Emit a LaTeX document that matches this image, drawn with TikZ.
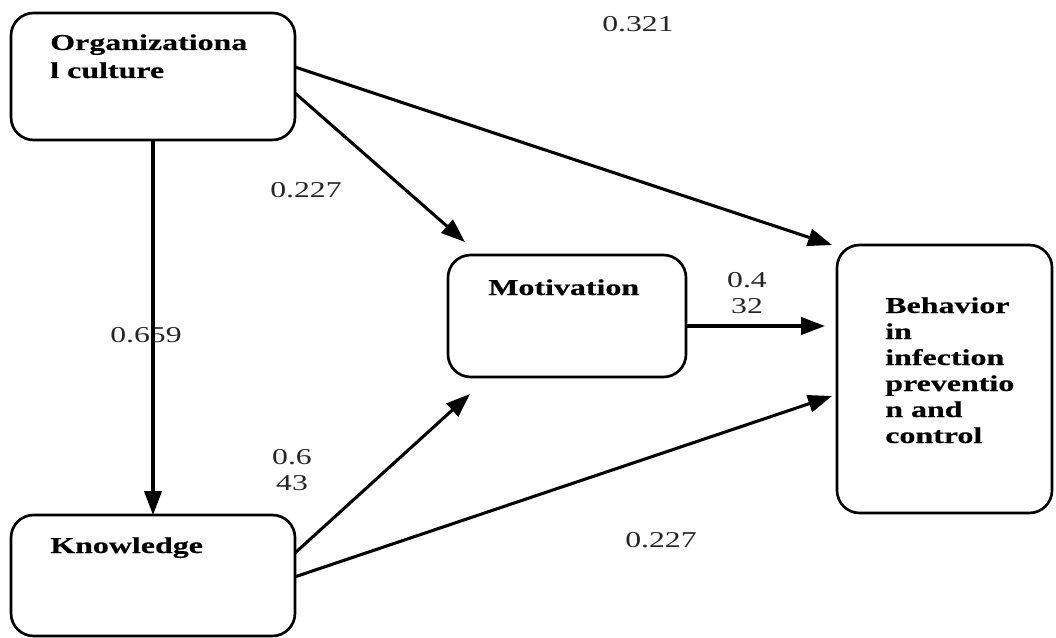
\documentclass[tikz,border=0pt]{standalone}
\usepackage{fontspec}
\setmainfont{Liberation Serif}
\newfontfamily\boxfont[FakeStretch=1.41, FakeBold=0.4]{Liberation Serif}
\newfontfamily\coeffont[FakeStretch=1.4]{Liberation Serif}
\usepackage{tikz}
\usetikzlibrary{arrows.meta,calc,positioning}
\tikzset{
	path diagram/.style={
		x=0.75pt, y=-0.75pt,
		ar/.style={-{Triangle[length=18pt,width=13pt]}, line width=2.3pt},
		coef/.style={font=\coeffont\fontsize{17}{19.5}\selectfont, text=black!85, align=center, inner sep=0pt}
		},
	box text/.style={font=\boxfont\bfseries\fontsize{17}{#1}\selectfont, align=left, inner sep=0pt},
	box text/.default=20pt,
	pb/.code 2 args={
		\pgfkeysalso{draw, line width=2pt, rounded corners=17pt,
			minimum width=#1, minimum height=#2, inner sep=0pt, outer sep=0pt,
			prefix after command={\pgfextra{\let\fixname\tikzlastnode}}}
	},
	% the base of a name is its last line
	pb name/.style n args={4}{append after command={\pgfextra{\node[box text=#3, anchor=base west]
		(\fixname-name) at ([xshift=#1, yshift=-#2]\fixname.north west) {#4};}}}
}

\begin{document}
\begin{tikzpicture}[path diagram]
  \useasboundingbox (0,0) rectangle (1056,638);
  \node[pb={213pt}{95.25pt}, pb name={29.25pt}{48.75pt}{21pt}{Organizationa\\l culture}] (org) at (153,76.5) {};
  \node[pb={213pt}{90.75pt}, pb name={29.25pt}{28.5pt}{20pt}{Knowledge}] (know) at (153,575.5) {};
  \node[pb={178.5pt}{91.5pt}, pb name={30pt}{30pt}{20pt}{Motivation}] (mot) at (567,316) {};
  \node[pb={161.25pt}{201pt}, pb name={36pt}{148.5pt}{19.5pt}{Behavior\\in\\infection\\preventio\\n and\\control}] (beh) at (944.5,379) {};
  \node[coef, anchor=base] (c321) at (638,32) {0.321};
  \node[coef, anchor=base] (c227a) at (306,197) {0.227};
  \node[coef, anchor=base] (c659) at (146,342) {0.659};
  \node[coef, anchor=base] (c432) at (747,313) {0.4\\32};
  \node[coef, anchor=base] (c643) at (292,490) {0.6\\43};
  \node[coef, anchor=base] (c227b) at (661,547) {0.227};
  \draw[ar] (org) -- (know);
  \draw[ar] ([yshift=-12.4pt]org.east) -- ([xshift=12.75pt,yshift=9.75pt]mot.north west);
  \draw[ar] ([yshift=7.1pt]org.east) -- ([xshift=-3.75pt]beh.north west);
  \draw[ar] ([yshift=-7.5pt]mot.east) -- ([xshift=-9pt,yshift=39.75pt]beh.west);
  \draw[ar] ([yshift=16.9pt]know.east) -- ([xshift=16.5pt,yshift=-12.75pt]mot.south west);
  \draw[ar] ([yshift=-1pt]know.east) -- ([xshift=-3.75pt,yshift=-12.75pt]beh.west);
\end{tikzpicture}
\end{document}
